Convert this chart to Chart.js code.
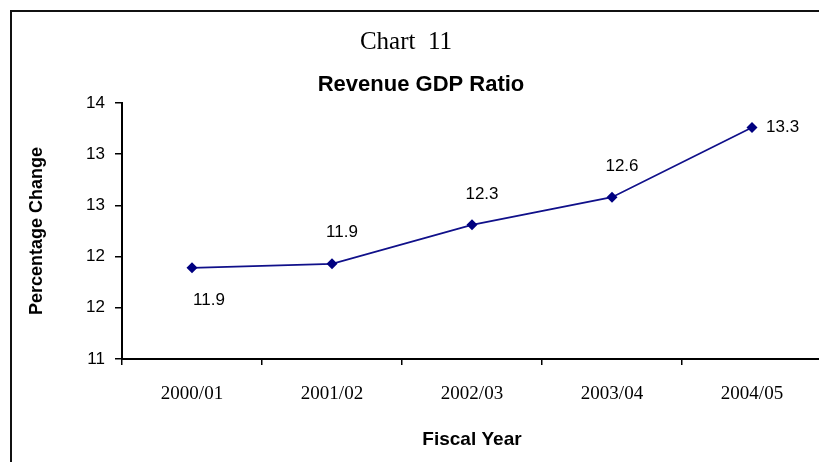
<!DOCTYPE html>
<html>
<head>
<meta charset="utf-8">
<title>Revenue GDP Ratio</title>
<script src="https://cdn.jsdelivr.net/npm/chart.js@4/dist/chart.umd.min.js"></script>
<style>
    html, body { margin: 0; padding: 0; background: #fff; overflow: hidden; }
    #wrap { position: relative; width: 819px; height: 462px; overflow: hidden; }
    #frame { position: absolute; left: 10px; top: 10px; right: -10px; bottom: -10px;
             border-left: 2px solid #111; border-top: 2px solid #111; pointer-events: none; }
    #chart { position: absolute; left: 0; top: 0; }
</style>
</head>
<body>
<div id="wrap">
    <canvas id="chart" width="830" height="462"></canvas>
    <div id="frame"></div>
</div>
<script>
// Chart data
const fiscalYears = ['2000/01', '2001/02', '2002/03', '2003/04', '2004/05'];
const revenueRatio = [11.89, 11.93, 12.31, 12.58, 13.26];
const yTicks = [11, 11.5, 12, 12.5, 13, 13.5];

// where each value label sits relative to its point
const labelPlacement = ['below', 'above', 'above', 'above', 'right'];

// Draw chart heading texts
const headingPlugin = {
    id: 'headings',
    afterDraw(chart) {
        const ctx = chart.ctx;
        ctx.save();
        ctx.fillStyle = '#000';
        ctx.textAlign = 'center';
        ctx.textBaseline = 'middle';
        ctx.font = '25px "Liberation Serif", "Times New Roman", serif';
        ctx.fillText('Chart  11', 406, 42);
        ctx.font = 'bold 22px "Liberation Sans", Arial, sans-serif';
        ctx.fillText('Revenue GDP Ratio', 421, 85);
        ctx.restore();
    }
};

// Value labels next to each point
const valueLabelPlugin = {
    id: 'valueLabels',
    afterDatasetsDraw(chart) {
        const ctx = chart.ctx;
        const meta = chart.getDatasetMeta(0);
        ctx.save();
        ctx.fillStyle = '#000';
        ctx.font = '17px "Liberation Sans", Arial, sans-serif';
        ctx.textAlign = 'center';
        ctx.textBaseline = 'middle';
        meta.data.forEach((point, i) => {
            const text = revenueRatio[i].toFixed(1);
            const place = labelPlacement[i];
            let x = point.x, y = point.y;
            if (place === 'below') { x += 17; y += 32; }
            else if (place === 'above') { x += 10; y -= 31; }
            else if (place === 'right') { ctx.textAlign = 'left'; x += 14; }
            ctx.fillText(text, x, y);
        });
        ctx.restore();
    }
};

const ctx = document.getElementById('chart').getContext('2d');
new Chart(ctx, {
    type: 'line',
    data: {
        labels: fiscalYears,
        datasets: [{
            label: 'Revenue GDP Ratio',
            data: revenueRatio,
            borderColor: '#10108a',
            borderWidth: 1.75,
            backgroundColor: '#000080',
            pointStyle: 'rectRot',
            pointRadius: 5.5,
            pointBorderWidth: 0,
            pointBackgroundColor: '#000080',
            tension: 0,
            fill: false
        }]
    },
    options: {
        responsive: false,
        animation: false,
        layout: { padding: { top: 103, right: 8, left: 0, bottom: 0 } },
        plugins: {
            legend: { display: false },
            tooltip: { enabled: false },
            title: { display: false }
        },
        scales: {
            x: {
                type: 'category',
                offset: true,
                grid: {
                    offset: true,
                    drawOnChartArea: false,
                    color: '#000',
                    lineWidth: 1.5,
                    tickLength: 6
                },
                border: { color: '#000', width: 2 },
                ticks: {
                    color: '#000',
                    padding: 18,
                    maxRotation: 0,
                    font: { family: '"Liberation Serif", "Times New Roman", serif', size: 19 }
                },
                title: {
                    display: true,
                    text: 'Fiscal Year',
                    color: '#000',
                    padding: { top: 0, bottom: 11 },
                    font: { family: '"Liberation Sans", Arial, sans-serif', size: 19, weight: 'bold' }
                },
                afterFit(scale) { scale.height = 103; }
            },
            y: {
                min: 11,
                max: 13.5,
                afterBuildTicks(scale) {
                    scale.ticks = yTicks.map(v => ({ value: v }));
                },
                grid: {
                    drawOnChartArea: false,
                    color: '#000',
                    lineWidth: 1.5,
                    tickLength: 7
                },
                border: { color: '#000', width: 2 },
                ticks: {
                    color: '#000',
                    padding: 10,
                    font: { family: '"Liberation Sans", Arial, sans-serif', size: 17 },
                    callback: (value) => Math.round(value)
                },
                title: {
                    display: true,
                    text: 'Percentage Change',
                    color: '#000',
                    padding: { top: 26, bottom: 0 },
                    font: { family: '"Liberation Sans", Arial, sans-serif', size: 18, weight: 'bold' }
                },
                afterFit(scale) { scale.width = 122; }
            }
        }
    },
    plugins: [headingPlugin, valueLabelPlugin]
});
</script>
</body>
</html>
